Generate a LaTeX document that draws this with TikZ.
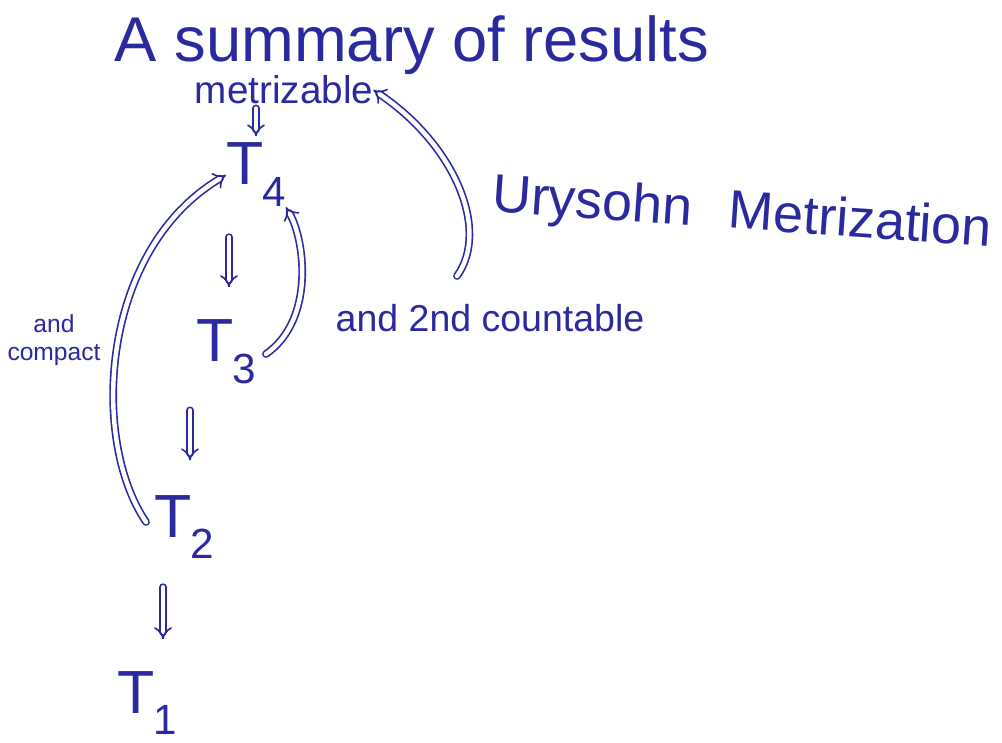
\documentclass[tikz,border=0pt]{standalone}
\usepackage{fontspec}
\setmainfont{Liberation Sans}
\usetikzlibrary{arrows.meta}
\definecolor{ink}{RGB}{42,42,158}
\newcommand{\Tsub}[1]{T\kern-0.02em\raisebox{-0.36em}{\fontsize{36}{36}\selectfont #1}}
\begin{document}
\begin{tikzpicture}[x=0.03cm,y=-0.03cm,
  lbl/.style={text=ink, inner sep=0pt, anchor=center},
  tnode/.style={lbl, font=\fontsize{52}{52}\selectfont},
  imp/.style={draw=ink, double=white, line width=1.4pt, double distance=3.8pt, -{Implies}, line cap=round}]
\fill[white] (0,0) rectangle (1002,742);
\useasboundingbox (0,0) rectangle (1002,742);

\node[lbl, font=\fontsize{54}{54}\selectfont] (title) at (412,45) {A summary of results};
\node[lbl, font=\fontsize{33}{33}\selectfont] (metr) at (284,90) {metrizable};
\node[tnode] (T4) at (256,175) {\Tsub{4}};
\node[tnode] (T3) at (226,352) {\Tsub{3}};
\node[tnode] (T2) at (184,527) {\Tsub{2}};
\node[tnode] (T1) at (147,703) {\Tsub{1}};
\node[lbl, font=\fontsize{46}{46}\selectfont, rotate=-4] (ury) at (742,215) {Urysohn\hspace{0.4em} Metrization};
\node[lbl, font=\fontsize{32}{32}\selectfont] (cnt) at (490,318) {and 2nd countable};
\node[lbl, font=\fontsize{21}{24}\selectfont, align=center] (cmp) at (54,340) {and\\compact};

\draw[imp] (metr.south) ++(-28,4) -- ++(0,28);
\draw[imp] (T4.south) ++(-27,30) -- ++(0,50);
\draw[imp] (T3.south) ++(-36,26) -- ++(0,50);
\draw[imp] (T2.south) ++(-21,28) -- ++(0,52);

\draw[imp] (T3.east) ++(10,2) .. controls (315,320) and (305,240) .. (T4.south east);
\draw[imp] (cnt.north) ++(-33,-28) .. controls (490,230) and (455,145) .. (metr.east);
\draw[imp] (T2.west) ++(-8,-5) .. controls (90,440) and (100,250) .. (T4.west);
\end{tikzpicture}
\end{document}
